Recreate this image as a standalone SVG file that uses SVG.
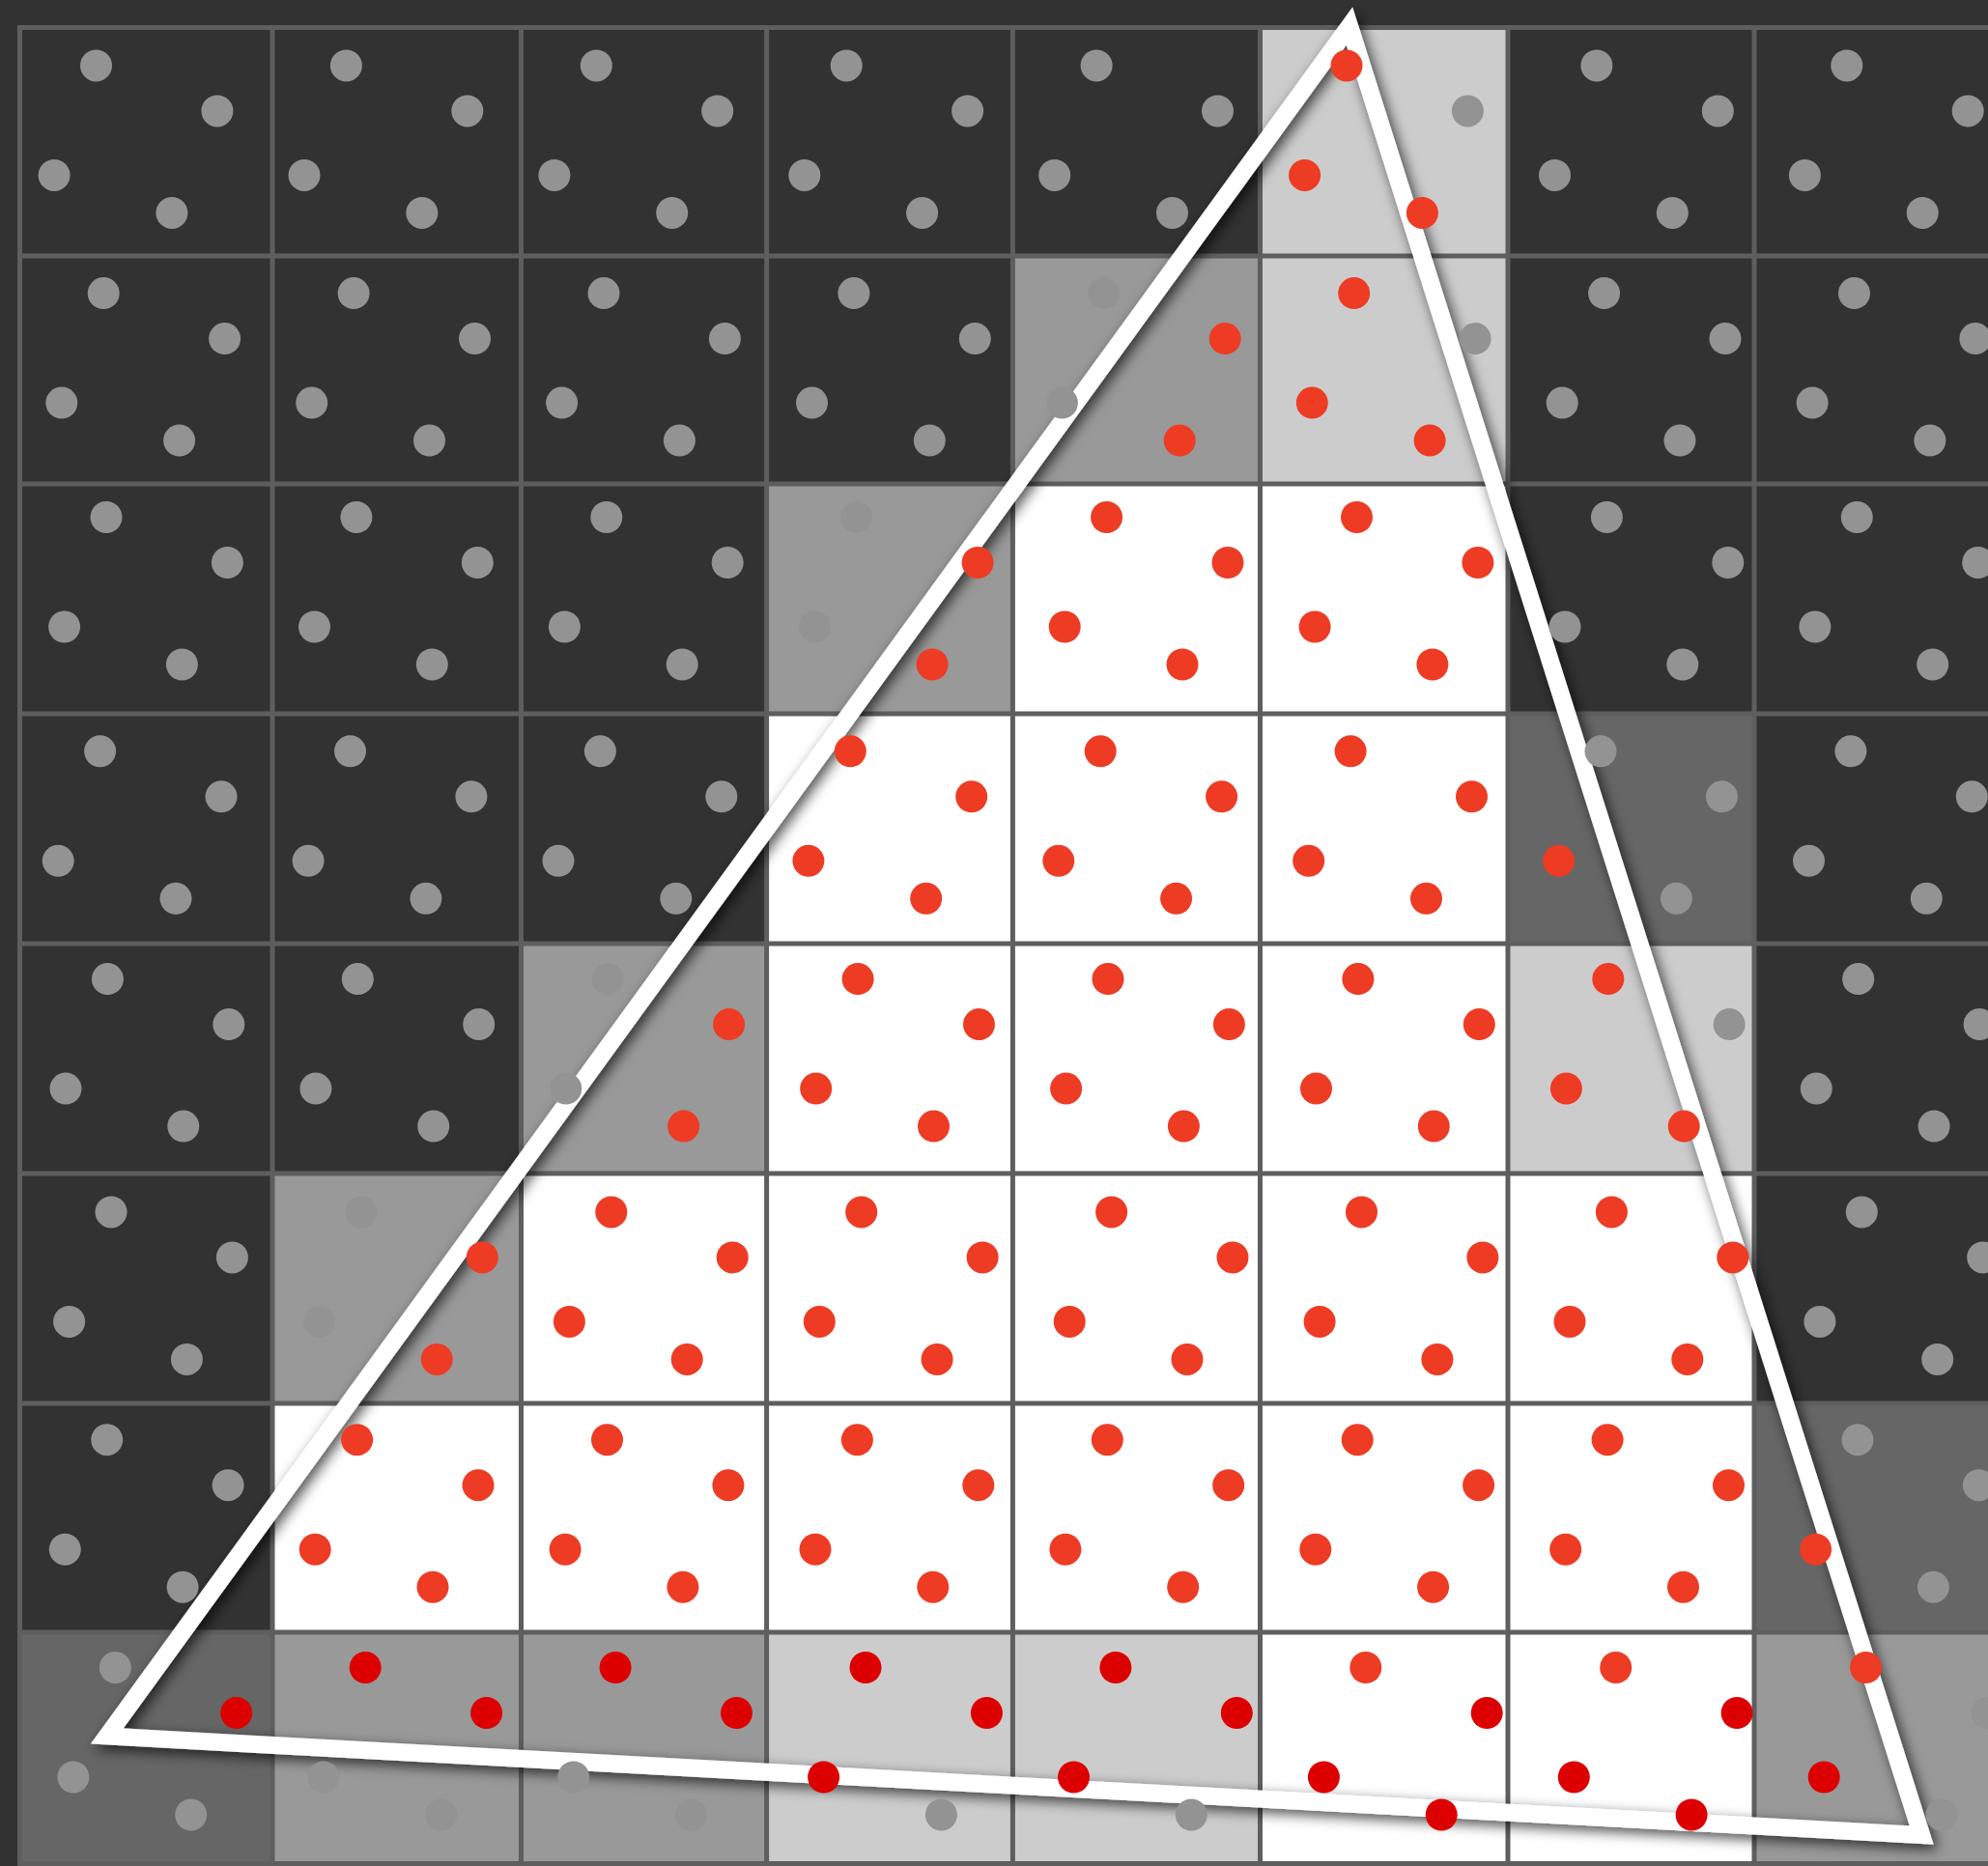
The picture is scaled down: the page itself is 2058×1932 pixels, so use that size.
<svg xmlns="http://www.w3.org/2000/svg" xmlns:xlink="http://www.w3.org/1999/xlink" width="2058" height="1932" viewBox="0 0 2058 1932">
<style>
.c0{fill:#323232}.c1{fill:#666666}.c2{fill:#999999}.c3{fill:#cccccc}.c4{fill:#ffffff}
.grid{stroke:#5e5e5e;stroke-width:5;fill:none}
.tri{fill:none;stroke:#ffffff;stroke-width:18;stroke-linejoin:miter}
.g{fill:#939393}.r{fill:#ee3b24}.p{fill:#dd0000}
</style>
<defs>
<filter id="sh" x="-10%" y="-10%" width="120%" height="120%">
<feDropShadow dx="4" dy="5" stdDeviation="7" flood-color="#000" flood-opacity="0.7"/>
</filter>
<g id="q">
<circle cx="0" cy="0" r="16.5"/>
<circle cx="125.4" cy="47" r="16.5"/>
<circle cx="-43.4" cy="113.5" r="16.5"/>
<circle cx="78.4" cy="152.5" r="16.5"/>
</g>
</defs>
<rect x="0" y="0" width="2058" height="1932" class="c0"/>
<g id="pixels">
<!-- row 0 -->
<rect x="1304.5" y="28.5" width="256.5" height="236.5" class="c3"/>
<!-- row 1 -->
<rect x="1048.4" y="265" width="256.1" height="236" class="c2"/>
<rect x="1304.5" y="265" width="256.5" height="236" class="c3"/>
<!-- row 2 -->
<rect x="793.6" y="501" width="254.8" height="238" class="c2"/>
<rect x="1048.4" y="501" width="512.6" height="238" class="c4"/>
<!-- row 3 -->
<rect x="793.6" y="739" width="767.4" height="238" class="c4"/>
<rect x="1561" y="739" width="255" height="238" class="c1"/>
<!-- row 4 -->
<rect x="539.5" y="977" width="254.1" height="238" class="c2"/>
<rect x="793.6" y="977" width="767.4" height="238" class="c4"/>
<rect x="1561" y="977" width="255" height="238" class="c3"/>
<!-- row 5 -->
<rect x="282" y="1215" width="257.5" height="238" class="c2"/>
<rect x="539.5" y="1215" width="1276.5" height="238" class="c4"/>
<!-- row 6 -->
<rect x="282" y="1453" width="1534" height="237" class="c4"/>
<rect x="1816" y="1453" width="256" height="237" class="c1"/>
<!-- row 7 -->
<rect x="21" y="1690" width="261" height="240" class="c1"/>
<rect x="282" y="1690" width="511.6" height="240" class="c2"/>
<rect x="793.6" y="1690" width="510.9" height="240" class="c3"/>
<rect x="1304.5" y="1690" width="511.5" height="240" class="c4"/>
<rect x="1816" y="1690" width="256" height="240" class="c2"/>
</g>
<g id="grid">
<path class="grid" d="M20.5 26V1932 M282 26V1932 M539.5 26V1932 M793.6 26V1932 M1048.4 26V1932 M1304.5 26V1932 M1561 26V1932 M1816 26V1932
M18 28.5H2058 M18 265H2058 M18 501H2058 M18 739H2058 M18 977H2058 M18 1215H2058 M18 1453H2058 M18 1690H2058 M18 1929.5H2058"/>
</g>
<g id="triangle" filter="url(#sh)">
<polygon class="tri" points="1397,27 110.8,1797.5 1989.2,1900"/>
</g>
<g id="samples">
<!-- row 0 -->
<use xlink:href="#q" href="#q" x="99.5" y="67.9" class="g"/>
<use xlink:href="#q" href="#q" x="358.4" y="67.9" class="g"/>
<use xlink:href="#q" href="#q" x="617.3" y="67.9" class="g"/>
<use xlink:href="#q" href="#q" x="876.2" y="67.9" class="g"/>
<use xlink:href="#q" href="#q" x="1135.1" y="67.9" class="g"/>
<circle cx="1394" cy="67.9" r="16.5" class="r"/>
<circle cx="1519.4" cy="114.9" r="16.5" class="g"/>
<circle cx="1350.6" cy="181.4" r="16.5" class="r"/>
<circle cx="1472.4" cy="220.4" r="16.5" class="r"/>
<use xlink:href="#q" href="#q" x="1652.9" y="67.9" class="g"/>
<use xlink:href="#q" href="#q" x="1911.8" y="67.9" class="g"/>
<!-- row 1 -->
<use xlink:href="#q" href="#q" x="107.2" y="303.6" class="g"/>
<use xlink:href="#q" href="#q" x="366.1" y="303.6" class="g"/>
<use xlink:href="#q" href="#q" x="625" y="303.6" class="g"/>
<use xlink:href="#q" href="#q" x="883.9" y="303.6" class="g"/>
<circle cx="1142.8" cy="303.6" r="16.5" class="g"/>
<circle cx="1268.2" cy="350.6" r="16.5" class="r"/>
<circle cx="1099.4" cy="417.1" r="16.5" class="g"/>
<circle cx="1221.2" cy="456.1" r="16.5" class="r"/>
<circle cx="1401.7" cy="303.6" r="16.5" class="r"/>
<circle cx="1527.1" cy="350.6" r="16.5" class="g"/>
<circle cx="1358.3" cy="417.1" r="16.5" class="r"/>
<circle cx="1480.1" cy="456.1" r="16.5" class="r"/>
<use xlink:href="#q" href="#q" x="1660.6" y="303.6" class="g"/>
<use xlink:href="#q" href="#q" x="1919.5" y="303.6" class="g"/>
<!-- row 2 -->
<use xlink:href="#q" href="#q" x="110" y="535.5" class="g"/>
<use xlink:href="#q" href="#q" x="368.9" y="535.5" class="g"/>
<use xlink:href="#q" href="#q" x="627.8" y="535.5" class="g"/>
<circle cx="886.7" cy="535.5" r="16.5" class="g"/>
<circle cx="1012.1" cy="582.5" r="16.5" class="r"/>
<circle cx="843.3" cy="649" r="16.5" class="g"/>
<circle cx="965.1" cy="688" r="16.5" class="r"/>
<use xlink:href="#q" href="#q" x="1145.6" y="535.5" class="r"/>
<use xlink:href="#q" href="#q" x="1404.5" y="535.5" class="r"/>
<use xlink:href="#q" href="#q" x="1663.4" y="535.5" class="g"/>
<use xlink:href="#q" href="#q" x="1922.3" y="535.5" class="g"/>
<!-- row 3 -->
<use xlink:href="#q" href="#q" x="103.6" y="777.8" class="g"/>
<use xlink:href="#q" href="#q" x="362.5" y="777.8" class="g"/>
<use xlink:href="#q" href="#q" x="621.4" y="777.8" class="g"/>
<use xlink:href="#q" href="#q" x="880.3" y="777.8" class="r"/>
<use xlink:href="#q" href="#q" x="1139.2" y="777.8" class="r"/>
<use xlink:href="#q" href="#q" x="1398.1" y="777.8" class="r"/>
<circle cx="1657" cy="777.8" r="16.5" class="g"/>
<circle cx="1782.4" cy="824.8" r="16.5" class="g"/>
<circle cx="1613.6" cy="891.3" r="16.5" class="r"/>
<circle cx="1735.4" cy="930.3" r="16.5" class="g"/>
<use xlink:href="#q" href="#q" x="1915.9" y="777.8" class="g"/>
<!-- row 4 -->
<use xlink:href="#q" href="#q" x="111.4" y="1013.6" class="g"/>
<use xlink:href="#q" href="#q" x="370.3" y="1013.6" class="g"/>
<circle cx="629.2" cy="1013.6" r="16.5" class="g"/>
<circle cx="754.6" cy="1060.6" r="16.5" class="r"/>
<circle cx="585.8" cy="1127.1" r="16.5" class="g"/>
<circle cx="707.6" cy="1166.1" r="16.5" class="r"/>
<use xlink:href="#q" href="#q" x="888.1" y="1013.6" class="r"/>
<use xlink:href="#q" href="#q" x="1147" y="1013.6" class="r"/>
<use xlink:href="#q" href="#q" x="1405.9" y="1013.6" class="r"/>
<circle cx="1664.8" cy="1013.6" r="16.5" class="r"/>
<circle cx="1790.2" cy="1060.6" r="16.5" class="g"/>
<circle cx="1621.4" cy="1127.1" r="16.5" class="r"/>
<circle cx="1743.2" cy="1166.1" r="16.5" class="r"/>
<use xlink:href="#q" href="#q" x="1923.7" y="1013.6" class="g"/>
<!-- row 5 -->
<use xlink:href="#q" href="#q" x="115" y="1254.9" class="g"/>
<circle cx="373.9" cy="1254.9" r="16.5" class="g"/>
<circle cx="499.3" cy="1301.9" r="16.5" class="r"/>
<circle cx="330.5" cy="1368.4" r="16.5" class="g"/>
<circle cx="452.3" cy="1407.4" r="16.5" class="r"/>
<use xlink:href="#q" href="#q" x="632.8" y="1254.9" class="r"/>
<use xlink:href="#q" href="#q" x="891.7" y="1254.9" class="r"/>
<use xlink:href="#q" href="#q" x="1150.6" y="1254.9" class="r"/>
<use xlink:href="#q" href="#q" x="1409.5" y="1254.9" class="r"/>
<use xlink:href="#q" href="#q" x="1668.4" y="1254.9" class="r"/>
<use xlink:href="#q" href="#q" x="1927.3" y="1254.9" class="g"/>
<!-- row 6 -->
<use xlink:href="#q" href="#q" x="110.7" y="1490.7" class="g"/>
<use xlink:href="#q" href="#q" x="369.6" y="1490.7" class="r"/>
<use xlink:href="#q" href="#q" x="628.5" y="1490.7" class="r"/>
<use xlink:href="#q" href="#q" x="887.4" y="1490.7" class="r"/>
<use xlink:href="#q" href="#q" x="1146.3" y="1490.7" class="r"/>
<use xlink:href="#q" href="#q" x="1405.2" y="1490.7" class="r"/>
<use xlink:href="#q" href="#q" x="1664.1" y="1490.7" class="r"/>
<circle cx="1923" cy="1490.7" r="16.5" class="g"/>
<circle cx="2048.4" cy="1537.7" r="16.5" class="g"/>
<circle cx="1879.6" cy="1604.2" r="16.5" class="r"/>
<circle cx="2001.4" cy="1643.2" r="16.5" class="g"/>
<!-- row 7 -->
<circle cx="119.3" cy="1726.5" r="16.5" class="g"/>
<circle cx="244.7" cy="1773.5" r="16.5" class="p"/>
<circle cx="75.9" cy="1840" r="16.5" class="g"/>
<circle cx="197.7" cy="1879" r="16.5" class="g"/>
<circle cx="378.2" cy="1726.5" r="16.5" class="p"/>
<circle cx="503.6" cy="1773.5" r="16.5" class="p"/>
<circle cx="334.8" cy="1840" r="16.5" class="g"/>
<circle cx="456.6" cy="1879" r="16.5" class="g"/>
<circle cx="637.1" cy="1726.5" r="16.5" class="p"/>
<circle cx="762.5" cy="1773.5" r="16.5" class="p"/>
<circle cx="593.7" cy="1840" r="16.5" class="g"/>
<circle cx="715.5" cy="1879" r="16.5" class="g"/>
<circle cx="896" cy="1726.5" r="16.5" class="p"/>
<circle cx="1021.4" cy="1773.5" r="16.5" class="p"/>
<circle cx="852.6" cy="1840" r="16.5" class="p"/>
<circle cx="974.4" cy="1879" r="16.5" class="g"/>
<circle cx="1154.9" cy="1726.5" r="16.5" class="p"/>
<circle cx="1280.3" cy="1773.5" r="16.5" class="p"/>
<circle cx="1111.5" cy="1840" r="16.5" class="p"/>
<circle cx="1233.3" cy="1879" r="16.5" class="g"/>
<circle cx="1413.8" cy="1726.5" r="16.5" class="r"/>
<circle cx="1539.2" cy="1773.5" r="16.5" class="p"/>
<circle cx="1370.4" cy="1840" r="16.5" class="p"/>
<circle cx="1492.2" cy="1879" r="16.5" class="p"/>
<circle cx="1672.7" cy="1726.5" r="16.5" class="r"/>
<circle cx="1798.1" cy="1773.5" r="16.5" class="p"/>
<circle cx="1629.3" cy="1840" r="16.5" class="p"/>
<circle cx="1751.1" cy="1879" r="16.5" class="p"/>
<circle cx="1931.6" cy="1726.5" r="16.5" class="r"/>
<circle cx="2057" cy="1773.5" r="16.5" class="g"/>
<circle cx="1888.2" cy="1840" r="16.5" class="p"/>
<circle cx="2010" cy="1879" r="16.5" class="g"/>
</g>
</svg>
